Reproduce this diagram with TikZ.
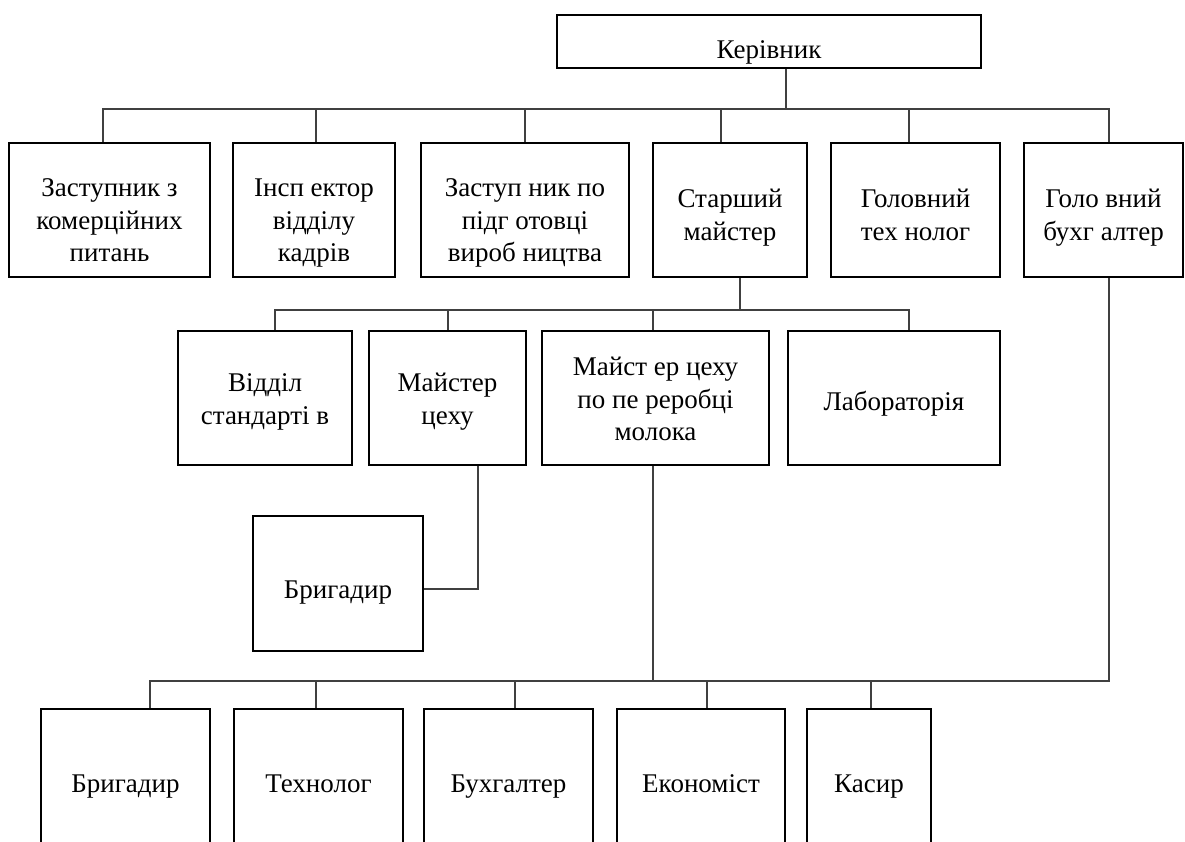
\documentclass[tikz,border=0pt]{standalone}
\usepackage{fontspec}
\setmainfont{Liberation Serif}
\usetikzlibrary{positioning, calc}
\definecolor{cline}{gray}{0.25}
\newcommand{\lift}[1]{\rule{0pt}{#1}}
\newcommand{\sink}{\rule[-6pt]{0pt}{6pt}}

\begin{document}
\begin{tikzpicture}[x=1pt, y=-1pt,
    unit/.style={draw, line width=2.6pt, rectangle, inner sep=0pt, align=center, font=\fontsize{27}{32.5}\selectfont, minimum height=134pt},
    low/.style={unit, minimum height=146pt},
    link/.style={-, line width=1.3pt, cline}
]
\useasboundingbox (0,0) rectangle (1185,841);
\clip (0,0) rectangle (1185,841);
\node[unit, minimum width=424pt, minimum height=53pt] (ker) at (769,41.5) {\lift{39pt}Керівник\sink};
\node[unit, minimum width=201pt] (zam) at (109.5,210) {\lift{44pt}Заступник з\\комерційних\\питань\sink};
\node[unit, minimum width=162pt] (insp) at (314,210) {\lift{44pt}Інсп ектор\\відділу\\кадрів\sink};
\node[unit, minimum width=208pt] (zpv) at (525,210) {\lift{44pt}Заступ ник по\\підг отовці\\вироб ництва\sink};
\node[unit, minimum width=154pt] (stm) at (730,210) {\lift{34pt}Старший\\майстер\sink};
\node[unit, minimum width=169pt] (gtech) at (915.5,210) {\lift{34pt}Головний\\тех нолог\sink};
\node[unit, minimum width=159pt] (gbuh) at (1103.5,210) {\lift{34pt}Голо вний\\бухг алтер\sink};
\node[unit, minimum width=174pt] (vst) at (265,398) {\lift{26pt}Відділ\\стандарті в\sink};
\node[unit, minimum width=157pt] (mc) at (447.5,398) {\lift{26pt}Майстер\\цеху\sink};
\node[unit, minimum width=227pt] (mcp) at (655.5,398) {\lift{26pt}Майст ер цеху\\по пе реробці\\молока\sink};
\node[unit, minimum width=212pt] (lab) at (894,398) {\lift{30pt}Лабораторія\sink};
\node[unit, minimum width=170pt, minimum height=135pt] (brig) at (338,583.5) {\lift{36pt}Бригадир\sink};
\node[low, minimum width=169pt] (br) at (125.5,782) {\lift{26pt}Бригадир\sink};
\node[low, minimum width=169pt] (tech) at (318.5,782) {\lift{26pt}Технолог\sink};
\node[low, minimum width=169pt] (buh) at (508.5,782) {\lift{26pt}Бухгалтер\sink};
\node[low, minimum width=168pt] (econ) at (701,782) {\lift{26pt}Економіст\sink};
\node[low, minimum width=124pt] (kas) at (869,782) {\lift{26pt}Касир\sink};
\coordinate (k1) at (786,109);
\coordinate (d1) at (103,109);
\coordinate (d2) at (316,109);
\coordinate (d3) at (525,109);
\coordinate (d4) at (721,109);
\coordinate (d5) at (909,109);
\coordinate (d6) at (1109,109);
\draw[link] (ker.south -| k1) -- (k1);
\draw[link] (d1 |- zam.north) -- (d1) -- (d6) -- (d6 |- gbuh.north);
\draw[link] (d2) -- (d2 |- insp.north);
\draw[link] (d3) -- (d3 |- zpv.north);
\draw[link] (d4) -- (d4 |- stm.north);
\draw[link] (d5) -- (d5 |- gtech.north);
\coordinate (s1) at (740,310);
\coordinate (e1) at (275,310);
\coordinate (e2) at (448,310);
\coordinate (e3) at (653,310);
\coordinate (e4) at (909,310);
\draw[link] (stm.south -| s1) -- (s1);
\draw[link] (e1 |- vst.north) -- (e1) -- (e4) -- (e4 |- lab.north);
\draw[link] (e2) -- (e2 |- mc.north);
\draw[link] (e3) -- (e3 |- mcp.north);
\coordinate (m1) at (478,589);
\draw[link] (mc.south -| m1) -- (m1) -- (m1 -| brig.east);
\coordinate (m2) at (653,681);
\coordinate (t1) at (150,681);
\coordinate (t2) at (316,681);
\coordinate (t3) at (515,681);
\coordinate (t4) at (707,681);
\coordinate (t5) at (871,681);
\coordinate (t6) at (1109,681);
\draw[link] (mcp.south -| m2) -- (m2);
\draw[link] (t1 |- br.north) -- (t1) -- (t6) -- (gbuh.south -| t6);
\draw[link] (t2) -- (t2 |- tech.north);
\draw[link] (t3) -- (t3 |- buh.north);
\draw[link] (t4) -- (t4 |- econ.north);
\draw[link] (t5) -- (t5 |- kas.north);
\end{tikzpicture}
\end{document}
